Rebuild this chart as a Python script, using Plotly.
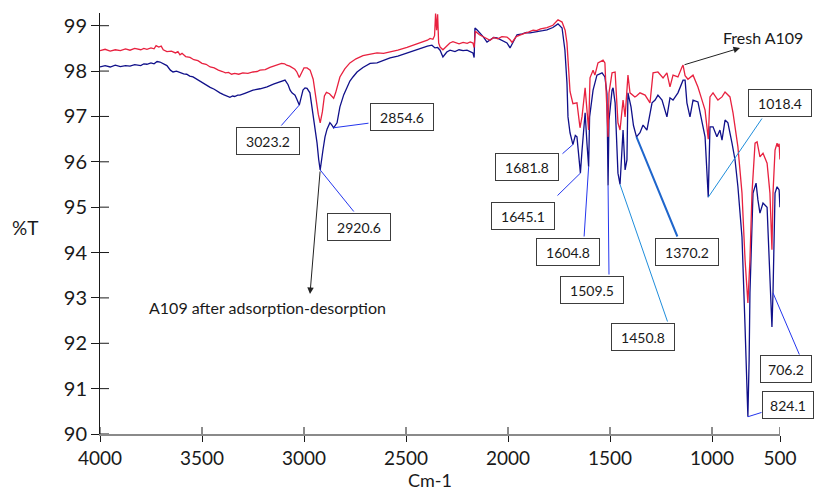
import plotly.graph_objects as go

# ---------------------------------------------------------------- data
# FTIR transmittance spectra (wavenumber in cm-1, %T)
fresh_wn = [
    4000, 3975, 3950, 3925, 3900, 3875, 3853, 3830, 3800, 3785,
    3770, 3750, 3735, 3725, 3712, 3700, 3690, 3672, 3650, 3630,
    3618, 3608, 3598, 3580, 3559, 3540, 3520, 3500, 3480, 3460,
    3440, 3420, 3400, 3385, 3370, 3355, 3340, 3320, 3300, 3275,
    3250, 3230, 3216, 3190, 3167, 3140, 3110, 3095, 3085, 3070,
    3059, 3045, 3035, 3023.2, 3010, 3000, 2985, 2970, 2955, 2940,
    2930, 2920.6, 2910, 2900, 2890, 2875, 2865, 2854.6, 2845, 2835,
    2824, 2800, 2775, 2745, 2711, 2680, 2642, 2610, 2578, 2540,
    2495, 2460, 2417, 2395, 2382, 2368, 2360, 2355, 2350, 2345,
    2340, 2333, 2319, 2300, 2285, 2270, 2240, 2220, 2200, 2185,
    2172, 2166, 2160, 2140, 2120, 2105, 2088, 2070, 2050, 2030,
    2005, 1990, 1980, 1960, 1941, 1920, 1900, 1877, 1860, 1840,
    1809, 1780, 1755, 1735, 1720, 1711, 1696, 1681.8, 1662, 1647,
    1637, 1622, 1613, 1604.8, 1598, 1583, 1574, 1559, 1534, 1525,
    1509.5, 1505, 1490, 1475, 1461, 1450.8, 1436, 1426, 1412, 1402,
    1378, 1370.2, 1353, 1328, 1304, 1289, 1265, 1240, 1221, 1206,
    1191, 1167, 1147, 1142, 1132, 1118, 1093, 1069, 1049, 1034,
    1018.4, 1010, 995, 971, 951, 936, 912, 897, 873, 853,
    838, 824.1, 814, 804, 789, 779, 765, 750, 730, 716,
    706.2, 701, 691, 681, 676, 671, 667,
]
fresh_t = [
    98.45, 98.48, 98.44, 98.47, 98.45, 98.49, 98.46, 98.50, 98.47, 98.50,
    98.48, 98.51, 98.49, 98.56, 98.53, 98.55, 98.47, 98.43, 98.44, 98.40,
    98.43, 98.36, 98.39, 98.32, 98.30, 98.25, 98.23, 98.17, 98.15, 98.09,
    98.07, 98.02, 97.99, 97.96, 97.97, 97.93, 97.95, 97.93, 97.96, 97.95,
    97.98, 97.99, 98.02, 98.03, 98.08, 98.12, 98.17, 98.16, 98.13, 98.11,
    98.07, 98.04, 97.98, 97.86, 97.98, 98.07, 98.07, 98.02, 97.82, 97.35,
    97.05, 96.86, 97.10, 97.45, 97.53, 97.50, 97.46, 97.40, 97.52, 97.72,
    97.87, 98.05, 98.18, 98.27, 98.34, 98.37, 98.40, 98.39, 98.42, 98.46,
    98.52, 98.57, 98.64, 98.68, 98.72, 98.70, 98.78, 99.27, 98.90, 99.25,
    98.62, 98.53, 98.47, 98.56, 98.62, 98.65, 98.60, 98.63, 98.61, 98.64,
    98.62, 98.52, 98.88, 98.80, 98.76, 98.72, 98.68, 98.74, 98.71, 98.76,
    98.75, 98.69, 98.63, 98.76, 98.80, 98.83, 98.86, 98.90, 98.89, 98.93,
    98.96, 99.01, 99.13, 99.08, 98.90, 98.62, 97.55, 97.28, 97.30, 96.75,
    97.00, 97.63, 97.14, 96.70, 97.85, 98.02, 97.91, 98.18, 98.24, 98.18,
    96.55, 97.52, 97.96, 97.98, 96.86, 96.70, 97.36, 96.99, 97.91, 97.52,
    97.43, 97.45, 97.52, 97.47, 97.30, 97.96, 97.98, 97.85, 97.96, 97.65,
    97.91, 97.87, 98.09, 98.13, 97.90, 97.82, 97.91, 97.65, 97.36, 97.14,
    96.50, 97.43, 97.52, 97.36, 97.43, 97.54, 97.43, 97.08, 96.33, 95.31,
    93.84, 92.89, 93.84, 95.31, 96.41, 96.44, 96.11, 96.19, 95.97, 95.31,
    94.06, 95.31, 96.26, 96.41, 96.33, 96.40, 96.05,
]

used_wn = [
    4000, 3975, 3950, 3925, 3900, 3875, 3853, 3830, 3800, 3785,
    3770, 3750, 3735, 3720, 3706, 3690, 3672, 3655, 3642, 3625,
    3608, 3590, 3575, 3560, 3544, 3520, 3500, 3485, 3460, 3440,
    3425, 3412, 3395, 3380, 3363, 3350, 3340, 3325, 3314, 3290,
    3270, 3250, 3215, 3181, 3150, 3118, 3105, 3093, 3078, 3068,
    3059, 3044, 3035, 3023.2, 3015, 3005, 2995, 2985, 2971, 2956,
    2946, 2936, 2928, 2920.6, 2907, 2897, 2887, 2873, 2865, 2854.6,
    2838, 2824, 2805, 2789, 2775, 2760, 2740, 2711, 2676, 2642,
    2610, 2578, 2540, 2495, 2460, 2417, 2395, 2373, 2358, 2345,
    2333, 2319, 2300, 2284, 2260, 2240, 2220, 2201, 2185, 2172,
    2166, 2162, 2150, 2137, 2120, 2103, 2085, 2070, 2054, 2040,
    2025, 2005, 1990, 1975, 1956, 1930, 1910, 1892, 1860, 1830,
    1809, 1780, 1755, 1735, 1721, 1711, 1706, 1696, 1681.8, 1670,
    1662, 1657, 1645.1, 1637, 1622, 1613, 1604.8, 1600, 1588, 1583,
    1564, 1539, 1525, 1515, 1509.5, 1505, 1490, 1485, 1475, 1466,
    1461, 1450.8, 1441, 1436, 1426, 1417, 1412, 1397, 1385, 1370.2,
    1353, 1338, 1319, 1294, 1279, 1265, 1245, 1221, 1206, 1191,
    1167, 1142, 1132, 1123, 1108, 1093, 1069, 1049, 1034, 1018.4,
    1010, 995, 976, 961, 951, 936, 922, 902, 887, 873,
    853, 838, 824.1, 818, 814, 799, 784, 775, 765, 750,
    730, 725, 711, 706.2, 701, 691, 681, 676, 671, 667,
]
used_t = [
    98.09, 98.12, 98.09, 98.13, 98.10, 98.12, 98.11, 98.14, 98.12, 98.16,
    98.15, 98.18, 98.16, 98.21, 98.20, 98.16, 98.12, 98.02, 97.98, 98.00,
    97.97, 97.94, 97.93, 97.89, 97.87, 97.80, 97.74, 97.70, 97.64, 97.60,
    97.55, 97.52, 97.48, 97.45, 97.42, 97.45, 97.44, 97.47, 97.47, 97.51,
    97.54, 97.58, 97.61, 97.65, 97.71, 97.76, 97.79, 97.80, 97.70, 97.58,
    97.52, 97.47, 97.38, 97.25, 97.40, 97.58, 97.63, 97.62, 97.52, 97.08,
    96.75, 96.41, 96.05, 95.82, 96.26, 96.55, 96.72, 96.86, 96.82, 96.75,
    96.86, 97.21, 97.48, 97.65, 97.78, 97.87, 97.98, 98.08, 98.17, 98.18,
    98.24, 98.29, 98.33, 98.40, 98.45, 98.51, 98.55, 98.57, 98.51, 98.52,
    98.46, 98.31, 98.42, 98.46, 98.43, 98.47, 98.45, 98.46, 98.43, 98.40,
    98.30, 98.95, 98.90, 98.84, 98.75, 98.64, 98.70, 98.74, 98.73, 98.70,
    98.68, 98.62, 98.51, 98.65, 98.80, 98.82, 98.85, 98.84, 98.86, 98.89,
    98.91, 98.96, 99.04, 98.95, 98.46, 97.74, 96.99, 96.64, 96.38, 96.58,
    96.55, 96.33, 95.75, 96.26, 97.08, 96.41, 95.89, 96.99, 97.36, 97.58,
    97.91, 97.96, 97.87, 97.50, 95.48, 96.92, 97.58, 97.63, 97.30, 96.04,
    95.75, 95.50, 96.26, 96.70, 95.82, 96.04, 97.52, 97.21, 96.80, 96.55,
    96.64, 96.81, 96.70, 97.30, 97.36, 97.47, 97.36, 96.99, 97.41, 97.36,
    97.52, 97.80, 97.80, 97.30, 96.99, 97.36, 97.32, 96.86, 96.55, 95.22,
    96.77, 96.77, 96.55, 96.70, 96.48, 96.92, 96.86, 96.41, 96.04, 95.45,
    94.34, 92.36, 90.38, 91.63, 93.11, 95.31, 95.53, 95.16, 94.87, 95.09,
    95.00, 94.43, 93.11, 92.36, 93.11, 95.31, 95.45, 95.40, 95.38, 95.00,
]

# peak labels on the used-sample spectrum and the wavenumber each leader points to
peak_labels = ["3023.2", "2854.6", "2920.6", "1681.8", "1645.1", "1604.8",
               "1509.5", "1450.8", "1370.2", "1018.4", "706.2", "824.1"]
peak_tips = [3023.2, 2854.6, 2920.6, 1681.8, 1645.1, 1604.8,
             1509.5, 1450.8, 1370.2, 1018.4, 701, 824.1]

x_tick_vals = [4000, 3500, 3000, 2500, 2000, 1500, 1000, 666.7]
x_tick_text = ["4000", "3500", "3000", "2500", "2000", "1500", "1000", "500"]
y_tick_vals = [90, 91, 92, 93, 94, 95, 96, 97, 98, 99]

# ---------------------------------------------------------------- layout helpers
W, H = 814, 492
ML, MR, MT, MB = 100, 34, 13, 58
X_RANGE = [4000, 666.7]
Y_RANGE = [90, 99.28]
PW, PH = W - ML - MR, H - MT - MB
FONT = "Lato, 'Open Sans', sans-serif"


def ax_x(px):
    return X_RANGE[0] + (px - ML) / PW * (X_RANGE[1] - X_RANGE[0])


def ax_y(py):
    return Y_RANGE[1] - (py - MT) / PH * (Y_RANGE[1] - Y_RANGE[0])


def pap_x(px):
    return (px - ML) / PW


def pap_y(py):
    return (H - MB - py) / PH


RED = "#e8213f"
NAVY = "#10108a"
BLUE = "#2436ee"
SKY = "#1f8ddb"
MID = "#1f66cc"

fig = go.Figure()
fig.add_trace(go.Scatter(x=used_wn, y=used_t, mode="lines",
                         line=dict(color=NAVY, width=1.3), showlegend=False))
fig.add_trace(go.Scatter(x=fresh_wn, y=fresh_t, mode="lines",
                         line=dict(color=RED, width=1.3), showlegend=False))

# box centre (px), box width, leader attach point on box (px), leader colour/width
label_style = {
    "3023.2": ((268, 141), 58, (280, 127), BLUE, 1),
    "2854.6": ((402, 117), 58, (370, 123), BLUE, 1),
    "2920.6": ((359, 227), 58, (355, 213), BLUE, 1),
    "1681.8": ((527, 167), 58, (561, 155), BLUE, 1),
    "1645.1": ((523, 216), 58, (556, 197), BLUE, 1),
    "1604.8": ((568, 252), 58, (584, 238), BLUE, 1),
    "1509.5": ((592, 290), 58, (609, 276), BLUE, 1),
    "1450.8": ((643, 337), 58, (668, 323), SKY, 1),
    "1370.2": ((687, 252), 58, (678, 238), MID, 2),
    "1018.4": ((780, 103), 58, (763, 117), SKY, 1),
    "706.2": ((786, 369), 46, (800, 356), BLUE, 1),
    "824.1": ((788, 405), 46, (763, 412), BLUE, 1),
}

annotations = []
for lab, wn in zip(peak_labels, peak_tips):
    (cx, cy), bw, (tx, ty), col, lw = label_style[lab]
    tip_t = used_t[used_wn.index(wn)]
    annotations.append(dict(
        x=wn, y=tip_t, xref="x", yref="y",
        ax=ax_x(tx), ay=ax_y(ty), axref="x", ayref="y",
        text="", showarrow=True, arrowhead=0, arrowwidth=lw,
        arrowcolor=col, standoff=0, startstandoff=0))
    annotations.append(dict(
        x=pap_x(cx), y=pap_y(cy), xref="paper", yref="paper",
        text=lab, showarrow=False, xanchor="center", yanchor="middle",
        width=bw, height=22, borderpad=2, borderwidth=1,
        bordercolor="#3c3c3c", bgcolor="white",
        font=dict(family=FONT, size=14, color="#1a1a1a")))

# series captions with pointer arrows
fresh_peak = 1142
annotations.append(dict(
    x=ax_x(740), y=ax_y(48), xref="x", yref="y",
    ax=fresh_peak, ay=fresh_t[fresh_wn.index(fresh_peak)], axref="x", ayref="y",
    text="", showarrow=True, arrowhead=2, arrowsize=1.3, arrowwidth=1,
    arrowcolor="#222222", standoff=0))
annotations.append(dict(
    x=pap_x(763), y=pap_y(38), xref="paper", yref="paper",
    text="Fresh A109", showarrow=False, xanchor="center", yanchor="middle",
    font=dict(family=FONT, size=16, color="#1a1a1a")))

used_peak = 2920.6
annotations.append(dict(
    x=ax_x(310), y=ax_y(294), xref="x", yref="y",
    ax=used_peak, ay=used_t[used_wn.index(used_peak)], axref="x", ayref="y",
    text="", showarrow=True, arrowhead=2, arrowsize=1.3, arrowwidth=1,
    arrowcolor="#222222", standoff=0))
annotations.append(dict(
    x=pap_x(267), y=pap_y(307), xref="paper", yref="paper",
    text="A109 after adsorption-desorption", showarrow=False,
    xanchor="center", yanchor="middle",
    font=dict(family=FONT, size=16, color="#1a1a1a")))

# axis titles
annotations.append(dict(
    x=pap_x(430), y=pap_y(492), xref="paper", yref="paper", text="Cm-1",
    showarrow=False, xanchor="center", yanchor="bottom", borderpad=0,
    font=dict(family=FONT, size=18, color="#1a1a1a")))
annotations.append(dict(
    x=pap_x(25), y=pap_y(228), xref="paper", yref="paper", text="%T",
    showarrow=False, xanchor="center", yanchor="middle",
    font=dict(family=FONT, size=19, color="#1a1a1a")))

# inner halves of the crossing tick marks
shapes = []
for v in y_tick_vals:
    shapes.append(dict(type="line", xref="x", yref="y", xsizemode="pixel",
                       xanchor=X_RANGE[0], x0=0, x1=9, y0=v, y1=v,
                       line=dict(color="#1a1a1a", width=1)))
for v in x_tick_vals:
    shapes.append(dict(type="line", xref="x", yref="y", ysizemode="pixel",
                       yanchor=Y_RANGE[0], y0=0, y1=7, x0=v, x1=v,
                       line=dict(color="#1a1a1a", width=1)))

fig.update_layout(
    width=W, height=H,
    margin=dict(l=ML, r=MR, t=MT, b=MB),
    paper_bgcolor="white", plot_bgcolor="white",
    font=dict(family=FONT, color="#1a1a1a"),
    annotations=annotations, shapes=shapes,
    xaxis=dict(range=X_RANGE, tickvals=x_tick_vals, ticktext=x_tick_text,
               showgrid=False, zeroline=False, showline=True,
               linecolor="#8a8a8a", linewidth=2,
               ticks="outside", ticklen=6, tickcolor="#1a1a1a", tickwidth=1,
               tickfont=dict(family=FONT, size=19, color="#1a1a1a")),
    yaxis=dict(range=Y_RANGE, tickvals=y_tick_vals,
               showgrid=False, zeroline=False, showline=True,
               linecolor="#1a1a1a", linewidth=1,
               ticks="outside", ticklen=8, tickcolor="#1a1a1a", tickwidth=1,
               tickfont=dict(family=FONT, size=20, color="#1a1a1a")),
)

fig.write_html("out.html")
